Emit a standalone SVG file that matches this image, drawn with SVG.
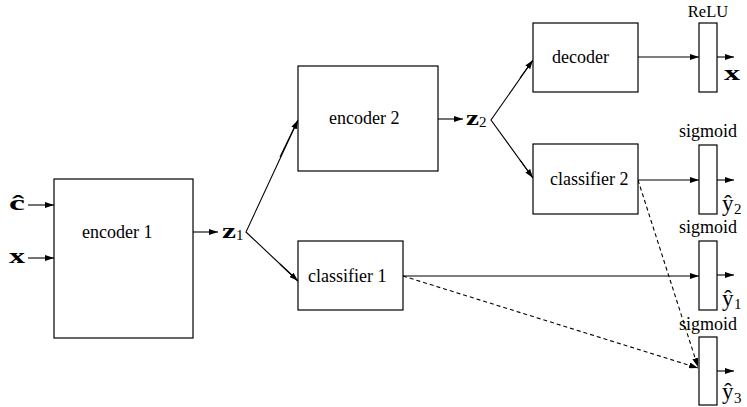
<svg xmlns="http://www.w3.org/2000/svg" width="747" height="407" viewBox="0 0 747 407">
<style>
.box{fill:#fff;stroke:#000;stroke-width:1.2}
.lbl{font-family:"Liberation Serif",serif;font-size:18px;fill:#000}
.act{font-family:"Liberation Serif",serif;font-size:18px;fill:#000;text-anchor:middle}
.math{font-family:"Liberation Serif",serif;font-weight:bold;font-size:21px;fill:#000}
.sub{font-family:"Liberation Serif",serif;font-size:15px;fill:#000}
.yh{font-family:"Liberation Serif",serif;font-size:23px;fill:#000}
.ln{stroke:#000;stroke-width:1.1;fill:none}
.dash{stroke:#000;stroke-width:1.1;fill:none;stroke-dasharray:4,3}
</style>
<defs>
<marker id="ah" markerUnits="userSpaceOnUse" markerWidth="9" markerHeight="6" refX="9" refY="3" orient="auto">
<path d="M0,0 L9,3 L0,6 z" fill="#000"/>
</marker>
</defs>
<rect width="747" height="407" fill="#fff"/>
<g id="connectors">
<line class="ln" x1="28" y1="205" x2="54" y2="205" marker-end="url(#ah)"/>
<line class="ln" x1="28" y1="258" x2="54" y2="258" marker-end="url(#ah)"/>
<line class="ln" x1="193" y1="232" x2="218" y2="232" marker-end="url(#ah)"/>
<polyline class="ln" points="298,120 246,232 298,281" />
<line class="ln" x1="280" y1="157" x2="298" y2="120" marker-end="url(#ah)"/>
<line class="ln" x1="280" y1="264" x2="298" y2="281" marker-end="url(#ah)"/>
<line class="ln" x1="438" y1="119" x2="463" y2="119" marker-end="url(#ah)"/>
<polyline class="ln" points="533,60 491,120 533,178"/>
<line class="ln" x1="520" y1="78" x2="533" y2="60" marker-end="url(#ah)"/>
<line class="ln" x1="520" y1="160" x2="533" y2="178" marker-end="url(#ah)"/>
<line class="ln" x1="638" y1="57" x2="699" y2="57" marker-end="url(#ah)"/>
<line class="ln" x1="717" y1="57" x2="734" y2="57" marker-end="url(#ah)"/>
<line class="ln" x1="638" y1="180" x2="699" y2="180" marker-end="url(#ah)"/>
<line class="ln" x1="717" y1="180" x2="734" y2="180" marker-end="url(#ah)"/>
<line class="ln" x1="403" y1="276" x2="699" y2="276" marker-end="url(#ah)"/>
<line class="ln" x1="717" y1="275" x2="734" y2="275" marker-end="url(#ah)"/>
<line class="ln" x1="717" y1="371" x2="734" y2="371" marker-end="url(#ah)"/>
<line class="dash" x1="403" y1="276" x2="698" y2="368" marker-end="url(#ah)"/>
<line class="dash" x1="638" y1="180" x2="698" y2="367" marker-end="url(#ah)"/>
</g>
<g id="inputs">
<text class="math" x="9" y="210" textLength="16" lengthAdjust="spacingAndGlyphs">ĉ</text>
<text class="math" x="9" y="263" textLength="16" lengthAdjust="spacingAndGlyphs">x</text>
</g>
<g id="encoder1">
<rect class="box" x="54" y="179" width="139" height="159"/>
<text class="lbl" x="82" y="238">encoder 1</text>
</g>
<g id="z1">
<text class="math" x="222" y="238" textLength="14" lengthAdjust="spacingAndGlyphs">z</text>
<text class="sub" x="236" y="240">1</text>
</g>
<g id="encoder2">
<rect class="box" x="298" y="66" width="140" height="105"/>
<text class="lbl" x="329" y="124">encoder 2</text>
</g>
<g id="z2">
<text class="math" x="466" y="125" textLength="13" lengthAdjust="spacingAndGlyphs">z</text>
<text class="sub" x="479" y="127">2</text>
</g>
<g id="classifier1">
<rect class="box" x="298" y="241" width="105" height="69"/>
<text class="lbl" x="308" y="282">classifier 1</text>
</g>
<g id="decoder">
<rect class="box" x="533" y="23" width="105" height="69"/>
<text class="lbl" x="552" y="63">decoder</text>
</g>
<g id="classifier2">
<rect class="box" x="533" y="144" width="105" height="70"/>
<text class="lbl" x="550" y="185">classifier 2</text>
</g>
<g id="relu">
<rect class="box" x="699" y="23" width="18" height="69"/>
<text class="act" x="708" y="17" style="font-size:16.5px">ReLU</text>
<text class="math" x="724" y="80" textLength="16" lengthAdjust="spacingAndGlyphs">x</text>
</g>
<g id="sigmoid2">
<rect class="box" x="699" y="145" width="18" height="69"/>
<text class="act" x="708" y="137">sigmoid</text>
<text class="yh" x="722" y="211">ŷ</text>
<text class="sub" x="734" y="214">2</text>
</g>
<g id="sigmoid1">
<rect class="box" x="699" y="241" width="18" height="69"/>
<text class="act" x="708" y="233">sigmoid</text>
<text class="yh" x="722" y="306">ŷ</text>
<text class="sub" x="734" y="309">1</text>
</g>
<g id="sigmoid3">
<rect class="box" x="699" y="337" width="18" height="68"/>
<text class="act" x="708" y="330">sigmoid</text>
<text class="yh" x="722" y="399">ŷ</text>
<text class="sub" x="734" y="403">3</text>
</g>
</svg>
